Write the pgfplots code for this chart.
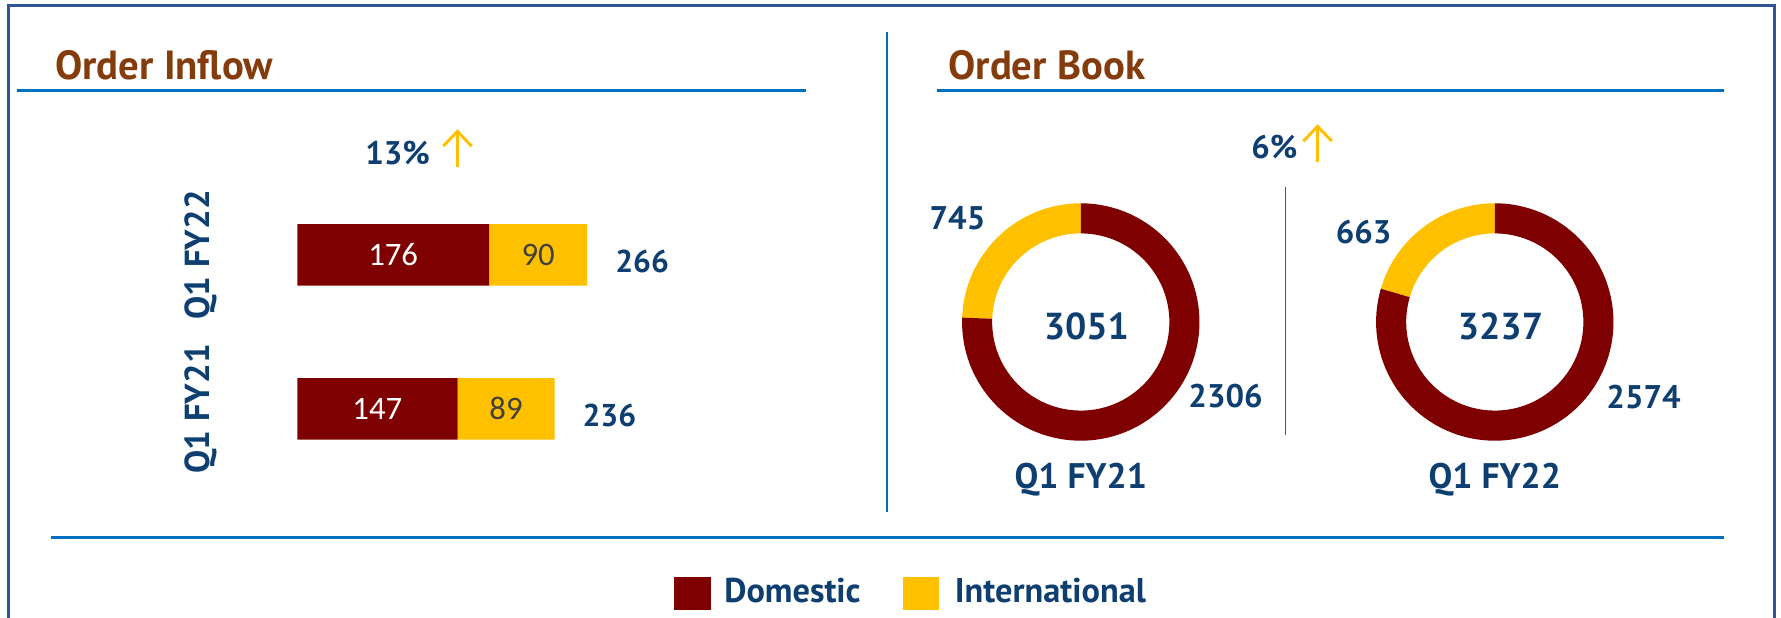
\documentclass[border=0pt]{standalone}
\usepackage{fontspec}
\setmainfont{PT Sans}
\newfontfamily\carlito{Carlito}
\usepackage{pgfplots}
\usepackage{pgfplotstable}
\pgfplotsset{compat=1.18}
\usetikzlibrary{calc,arrows.meta}

\definecolor{dom}{HTML}{7F0000}
\definecolor{intl}{HTML}{FFC000}
\definecolor{navy}{HTML}{0E3F70}
\definecolor{ttl}{HTML}{843C0C}
\definecolor{rule}{HTML}{0070C0}
\definecolor{frame}{HTML}{2F5597}
\newcommand\fs[1]{\fontsize{#1}{#1}\selectfont}

% order inflow, pos 0 = Q1 FY21, pos 1 = Q1 FY22
\pgfplotstableread{
pos dom intl
0 147 89
1 176 90
}\inflow

% order book
\pgfplotstableread{
dom intl
2306 745
2574 663
}\orderbook

\begin{document}
\begin{tikzpicture}
\useasboundingbox (0,0) rectangle (15.68,-5.44);

% frame, titles, rules
\draw[frame, line width=0.024cm] (0.076,-5.6) -- (0.076,-0.05) -- (15.625,-0.05) -- (15.625,-5.6);
\draw[rule, line width=0.018cm] (7.808,-0.279) -- (7.808,-4.504);
\draw[rule, line width=0.028cm] (0.15,-0.80) -- (7.10,-0.80);
\draw[rule, line width=0.028cm] (8.25,-0.80) -- (15.18,-0.80);
\draw[rule, line width=0.026cm] (0.445,-4.73) -- (15.18,-4.73);
\draw[rule, line width=0.015cm] (11.318,-1.643) -- (11.318,-3.83);
\node[anchor=base west, inner sep=0, text=ttl, font=\fs{10.2}\bfseries] at (0.48,-0.704) {Order Inflow};
\node[anchor=base west, inner sep=0, text=ttl, font=\fs{10.2}\bfseries] at (8.343,-0.704) {Order Book};

% growth marks
\node[anchor=base west, inner sep=0, text=navy, font=\fs{8.2}\bfseries] at (3.209,-1.452) {13\%};
\draw[intl, line width=0.026cm, -{Straight Barb[length=0.13cm, width=0.25cm]}] (4.027,-1.467) -- (4.027,-1.138);
\node[anchor=base west, inner sep=0, text=navy, font=\fs{8.2}\bfseries] at (11.01,-1.394) {6\%};
\draw[intl, line width=0.026cm, -{Straight Barb[length=0.13cm, width=0.25cm]}] (11.60,-1.423) -- (11.60,-1.094);

% ---- order inflow bars
\begin{axis}[
    at={(2.617cm,-4.278cm)}, anchor=south west,
    x=0.0096cm, y=1.356cm,
    xmin=0, xmax=280, ymin=-0.5, ymax=1.5,
    xbar stacked, bar width=0.543cm,
    axis line style={draw=none},
    xtick=\empty, ytick={0,1},
    yticklabels={Q1 FY21, Q1 FY22},
    major tick length=0pt,
    yticklabel shift=0.70cm,
    yticklabel style={rotate=90, anchor=south, inner sep=0pt,
        font=\fs{8.7}\bfseries, text=navy},
    legend style={at={(1.2326,-0.3492)}, anchor=west, draw=none, fill=none,
        inner sep=0pt, legend columns=-1,
        font=\fs{8.6}\bfseries, text=navy,
        /tikz/every even column/.append style={column sep=0.30cm}},
]
\addplot[fill=dom, draw=none,
    legend image code/.code={\fill[dom] (0cm,-0.145cm) rectangle (0.32cm,0.145cm); \path (0.37cm,0);}]
    table[x=dom, y=pos] {\inflow};
\addplot[fill=intl, draw=none,
    legend image code/.code={\fill[intl] (0cm,-0.145cm) rectangle (0.32cm,0.145cm); \path (0.39cm,0);}]
    table[x=intl, y=pos] {\inflow};
\legend{Domestic, International}
\end{axis}

% labels on the bars
\begin{axis}[
    at={(2.617cm,-4.278cm)}, anchor=south west,
    x=0.0096cm, y=1.356cm,
    xmin=0, xmax=280, ymin=-0.5, ymax=1.5,
    hide axis,
    /pgf/number format/assume math mode=true,
]
\addplot[draw=none, mark=none, nodes near coords, point meta=explicit,
    nodes near coords style={anchor=center, inner sep=0pt, text=white, font=\fs{8.2}\carlito}]
    table[x expr=\thisrow{dom}/2, y=pos, meta=dom] {\inflow};
\addplot[draw=none, mark=none, nodes near coords, point meta=explicit,
    nodes near coords style={anchor=center, inner sep=0pt, text=black!75, font=\fs{8.2}\carlito}]
    table[x expr=\thisrow{dom}+\thisrow{intl}/2, y=pos, meta=intl] {\inflow};
\addplot[draw=none, mark=none, nodes near coords, point meta=x,
    nodes near coords style={anchor=west, inner sep=0pt, xshift=0.24cm, yshift=-0.06cm,
        text=navy, font=\fs{7.9}\bfseries}]
    table[x expr=\thisrow{dom}+\thisrow{intl}, y=pos] {\inflow};
\end{axis}

% ---- order book donuts
\def\Ro{1.045cm}
\def\Ri{0.78cm}
\foreach \r/\cx/\per in {0/9.515/Q1 FY21, 1/13.16/Q1 FY22} {
  \pgfplotstablegetelem{\r}{dom}\of\orderbook \edef\dval{\pgfplotsretval}
  \pgfplotstablegetelem{\r}{intl}\of\orderbook \edef\ival{\pgfplotsretval}
  \pgfmathsetmacro\ang{90+360*(\ival/(\dval+\ival))}
  \pgfmathtruncatemacro\tot{\dval+\ival}
  \begin{axis}[
      at={(\cx cm,-2.835cm)}, anchor=center,
      x=1cm, y=1cm, xmin=-1.5, xmax=1.5, ymin=-1.5, ymax=1.5,
      hide axis,
  ]
  \fill[intl] ($(axis cs:0,0)+(90:\Ro)$) arc[start angle=90, end angle=\ang, radius=\Ro]
      -- ($(axis cs:0,0)+(\ang:\Ri)$) arc[start angle=\ang, end angle=90, radius=\Ri] -- cycle;
  \fill[dom] ($(axis cs:0,0)+(\ang:\Ro)$) arc[start angle=\ang, end angle=450, radius=\Ro]
      -- ($(axis cs:0,0)+(450:\Ri)$) arc[start angle=450, end angle=\ang, radius=\Ri] -- cycle;
  \end{axis}
  \node[text=navy, font=\fs{9.4}\bfseries, inner sep=0] at (\cx+0.05,-2.875) {\tot};
  \node[text=navy, font=\fs{8.9}\bfseries, inner sep=0, anchor=base] at (\cx,-4.298) {\per};
}
% outside value labels
\pgfplotstablegetelem{0}{intl}\of\orderbook
\node[text=navy, font=\fs{8.2}\bfseries, inner sep=0] at (8.43,-1.92) {\pgfplotsretval};
\pgfplotstablegetelem{0}{dom}\of\orderbook
\node[text=navy, font=\fs{8.2}\bfseries, inner sep=0] at (10.79,-3.49) {\pgfplotsretval};
\pgfplotstablegetelem{1}{intl}\of\orderbook
\node[text=navy, font=\fs{8.2}\bfseries, inner sep=0] at (12.005,-2.04) {\pgfplotsretval};
\pgfplotstablegetelem{1}{dom}\of\orderbook
\node[text=navy, font=\fs{8.2}\bfseries, inner sep=0] at (14.47,-3.50) {\pgfplotsretval};
\end{tikzpicture}
\end{document}
